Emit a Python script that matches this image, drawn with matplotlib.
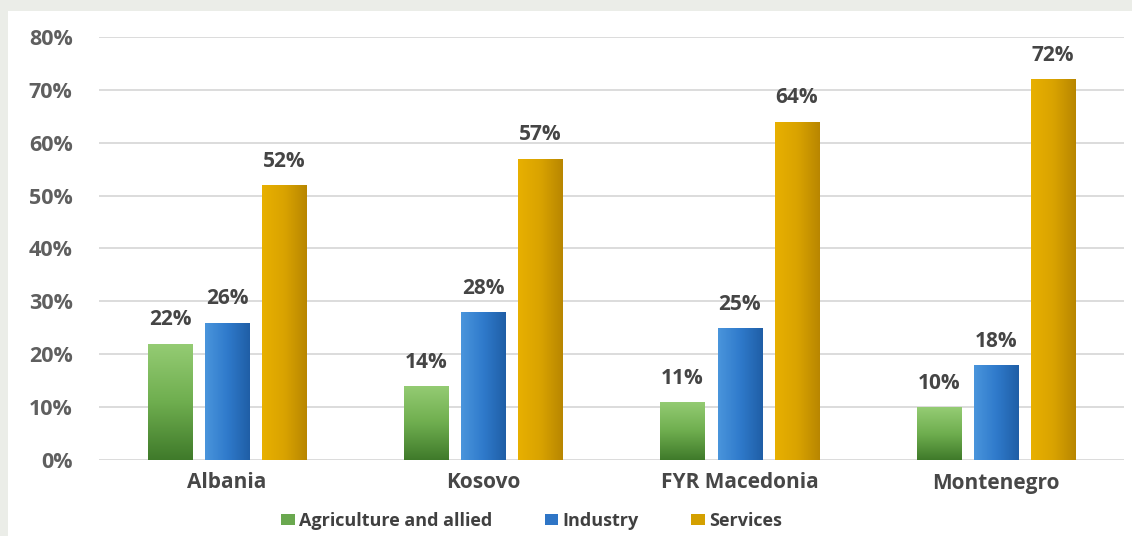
import numpy as np
import matplotlib
matplotlib.use("Agg")
import matplotlib.pyplot as plt
from matplotlib.colors import LinearSegmentedColormap
from matplotlib.patches import Rectangle

categories = ["Albania", "Kosovo", "FYR Macedonia", "Montenegro"]
series_names = ["Agriculture and allied", "Industry", "Services"]
agriculture = [22, 14, 11, 10]
industry = [26, 28, 25, 18]
services = [52, 57, 64, 72]
yticks = [0, 10, 20, 30, 40, 50, 60, 70, 80]

plt.rcParams['font.family'] = ['Open Sans', 'DejaVu Sans']

W, H = 1132, 536
fig = plt.figure(figsize=(W / 100, H / 100), dpi=100)
fig.patch.set_facecolor("#ebede8")
# white panel
fig.patches.append(Rectangle((8 / W, 0), 1 - 8 / W, 1 - 11 / H,
                             transform=fig.transFigure, facecolor="white",
                             edgecolor="none", zorder=-5))

ax = fig.add_axes([99 / W, 1 - 460 / H, (1124 - 99) / W, (460 - 37) / H])
ax.set_facecolor("none")

x = np.arange(len(categories))
w = 0.172
off = 0.223
series = [agriculture, industry, services]
base_cols = ["#6aa84f", "#2e75c6", "#d4a000"]
grads = [
    (LinearSegmentedColormap.from_list("g", ["#3f7a2a", "#6fae4f", "#95cc74"]), "v"),
    (LinearSegmentedColormap.from_list("b", ["#4a95dc", "#2f7acb", "#1f5ea6"]), "h"),
    (LinearSegmentedColormap.from_list("o", ["#e8b000", "#d9a300", "#b88600"]), "h"),
]

for i, (vals, col, (cmap, orient)) in enumerate(zip(series, base_cols, grads)):
    bars = ax.bar(x + (i - 1) * off, vals, width=w, color=col, zorder=2,
                  label=series_names[i])
    for b, v in zip(bars, vals):
        x0, x1 = b.get_x(), b.get_x() + b.get_width()
        if orient == "v":
            grad = np.linspace(0, 1, 256).reshape(-1, 1)
        else:
            grad = np.linspace(0, 1, 256).reshape(1, -1)
        im = ax.imshow(grad, cmap=cmap, extent=(x0, x1, 0, v), origin="lower",
                       aspect="auto", zorder=2.5, interpolation="bilinear")
        im.set_clip_path(b)
        ax.text(b.get_x() + b.get_width() / 2, v + 2.5, f"{v}%", ha="center",
                va="bottom", fontsize=15, fontweight="bold", color="#454545",
                zorder=4)

ax.set_xlim(-0.5, len(categories) - 0.5)
ax.set_ylim(0, 80)
ax.set_yticks(yticks)
ax.set_yticklabels([f"{t}%" for t in yticks], fontsize=15.5, fontweight="bold",
                   color="#5f5f5f")
ax.set_xticks(x)
ax.set_xticklabels(categories, fontsize=15, fontweight="bold", color="#474747")
ax.tick_params(axis="both", length=0)
ax.tick_params(axis="y", pad=19)
ax.tick_params(axis="x", pad=9)
ax.grid(axis="y", color="#d9d9d9", linewidth=1.3, zorder=0)
for s in ax.spines.values():
    s.set_visible(False)

leg = fig.legend(*ax.get_legend_handles_labels(), loc="center left",
                 bbox_to_anchor=(281 / W, 1 - 521 / H), ncol=3,
                 frameon=False, handlelength=0.75, handleheight=0.6,
                 columnspacing=2.9, handletextpad=0.25, borderpad=0,
                 borderaxespad=0,
                 prop={"size": 13, "weight": "bold"})
for t in leg.get_texts():
    t.set_color("#404040")

fig.savefig("out.png", dpi=100, facecolor=fig.get_facecolor())
